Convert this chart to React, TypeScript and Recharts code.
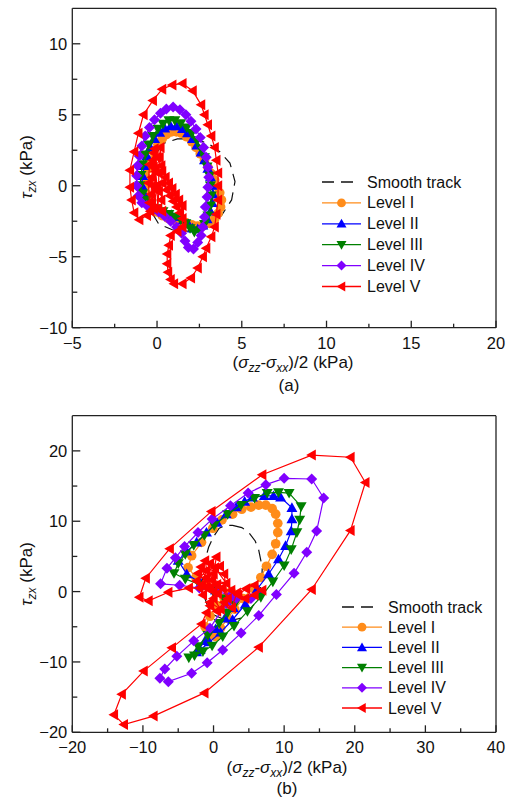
import React from 'react';
import { ScatterChart, Scatter, XAxis, YAxis, ReferenceLine } from 'recharts';

type Pt = [number, number];

// ---------- panel (a) ----------
const aSmooth: Pt[] = [
  [2.1, 3.3], [3.0, 3.0], [3.7, 2.4], [4.3, 1.6], [4.6, 0.3], [4.4, -1.0], [3.8, -2.1],
  [2.9, -2.9], [1.8, -3.2], [0.9, -3.1], [0.1, -2.7], [-0.3, -1.9], [-0.5, -0.6],
  [-0.4, 0.9], [-0.1, 2.2], [0.4, 3.0], [1.2, 3.3], [2.1, 3.3],
];
const aLevel1: Pt[] = [
  [-0.7, 0.0], [-0.65, 0.6], [-0.55, 1.2], [-0.4, 1.8], [-0.2, 2.4], [0.05, 2.9], [0.3, 3.3],
  [0.55, 3.6], [0.85, 3.8], [1.15, 3.8], [1.45, 3.7], [1.75, 3.45], [2.05, 3.1], [2.3, 2.7],
  [2.55, 2.25], [2.8, 1.8], [3.0, 1.3], [3.2, 0.85], [3.4, 0.4], [3.55, -0.05], [3.7, -0.5],
  [3.8, -1.0], [3.75, -1.5], [3.6, -1.95], [3.4, -2.35], [3.1, -2.65], [2.75, -2.8], [2.4, -2.85],
  [2.05, -2.75], [1.7, -2.6], [1.35, -2.5], [1.0, -2.4], [0.65, -2.3], [0.3, -2.1], [0.0, -1.85],
  [-0.3, -1.5], [-0.5, -1.1], [-0.65, -0.55], [-0.7, 0.0],
];
const aLevel2: Pt[] = [
  [-0.9, 0.0], [-0.85, 0.7], [-0.75, 1.4], [-0.6, 2.1], [-0.4, 2.7], [-0.15, 3.3], [0.15, 3.75],
  [0.45, 4.05], [0.8, 4.2], [1.15, 4.2], [1.5, 4.0], [1.8, 3.7], [2.1, 3.3], [2.35, 2.85],
  [2.6, 2.35], [2.8, 1.8], [3.0, 1.2], [3.15, 0.6], [3.25, 0.0], [3.3, -0.6], [3.25, -1.2],
  [3.15, -1.8], [2.95, -2.35], [2.7, -2.8], [2.4, -3.05], [2.1, -3.0], [1.85, -2.7], [1.55, -2.4],
  [1.2, -2.2], [0.85, -2.05], [0.5, -1.9], [0.15, -1.7], [-0.2, -1.45], [-0.5, -1.1],
  [-0.75, -0.6], [-0.9, 0.0],
];
const aLevel3: Pt[] = [
  [-1.0, 0.0], [-0.95, 0.75], [-0.85, 1.5], [-0.7, 2.2], [-0.5, 2.9], [-0.25, 3.5], [0.05, 4.0],
  [0.35, 4.35], [0.7, 4.6], [1.05, 4.6], [1.4, 4.4], [1.75, 4.1], [2.05, 3.7], [2.35, 3.2],
  [2.6, 2.6], [2.8, 2.0], [2.95, 1.35], [3.1, 0.7], [3.15, 0.0], [3.2, -0.7], [3.15, -1.4],
  [3.0, -2.1], [2.8, -2.7], [2.5, -3.15], [2.2, -3.25], [1.95, -3.0], [1.7, -2.65], [1.4, -2.4],
  [1.05, -2.2], [0.7, -2.0], [0.35, -1.8], [0.0, -1.6], [-0.35, -1.35], [-0.65, -1.0],
  [-0.85, -0.55], [-1.0, 0.0],
];
const aLevel4: Pt[] = [
  [-1.2, 0.0], [-1.2, 0.7], [-1.15, 1.4], [-1.05, 2.1], [-0.9, 2.8], [-0.7, 3.5], [-0.45, 4.1],
  [-0.15, 4.65], [0.2, 5.1], [0.55, 5.4], [0.95, 5.55], [1.35, 5.35], [1.7, 5.0], [2.0, 4.55],
  [2.3, 4.0], [2.55, 3.4], [2.75, 2.7], [2.9, 2.0], [3.0, 1.3], [3.05, 0.6], [3.0, -0.1],
  [2.95, -0.8], [2.85, -1.5], [2.8, -2.2], [2.7, -2.9], [2.6, -3.5], [2.4, -4.0], [2.15, -4.45],
  [1.85, -4.35], [1.65, -3.9], [1.45, -3.35], [1.15, -2.9], [0.8, -2.5], [0.45, -2.15],
  [0.1, -1.85], [-0.25, -1.6], [-0.6, -1.4], [-0.9, -1.2], [-1.1, -0.7], [-1.2, 0.0],
];
const aLevel5: Pt[] = [
  [0.0, 0.0], [-0.1, 1.2], [-0.15, 2.6], [-0.2, 1.3], [-0.25, 0.0], [-0.3, -1.2], [-0.4, -1.8],
  [-0.35, -0.6], [-0.3, 0.6], [-0.25, 1.8], [-0.2, 2.3], [-0.1, 1.0], [0.0, -0.3], [0.05, -1.6],
  [0.1, -0.4], [0.1, 0.9], [0.15, 2.0], [0.2, 2.7], [0.25, 1.4], [0.3, 0.2], [0.25, -1.0],
  [0.3, -1.8], [-0.45, -1.2], [-0.5, 0.2], [-0.45, 1.5], [0.0, 2.0], [0.3, 1.0], [0.5, 0.6],
  [0.55, -0.3], [0.7, 0.2], [0.75, -0.7], [0.9, -0.2], [0.95, -1.1], [1.1, -0.6], [1.15, -1.5],
  [1.3, -1.0], [1.35, -1.9], [1.5, -1.4], [1.5, -2.3], [1.5, -2.9], [1.2, -3.2], [0.8, -3.5],
  [0.7, -4.2], [0.6, -4.8], [0.6, -5.5], [0.65, -6.1], [0.8, -6.6], [1.0, -6.9], [1.5, -6.9],
  [2.0, -6.5], [2.4, -5.8], [2.7, -5.0], [2.9, -4.4], [3.2, -3.6], [3.4, -2.9], [3.5, -2.0],
  [3.6, -1.0], [3.6, 0.0], [3.6, 0.9], [3.5, 1.8], [3.4, 2.7], [3.2, 3.5], [3.0, 4.3],
  [2.8, 5.0], [2.6, 5.7], [2.1, 6.7], [1.5, 7.2], [0.9, 7.1], [0.3, 6.8], [-0.25, 6.0],
  [-0.8, 5.0], [-1.1, 3.7], [-1.35, 2.4], [-1.6, 1.1], [-1.6, -0.1], [-1.5, -1.0], [-1.35, -1.9],
  [-1.05, -2.4], [-0.6, -2.1], [-0.2, -1.6], [0.0, 0.0],
];

// ---------- panel (b) ----------
const bSmooth: Pt[] = [
  [2.7, 9.4], [4.0, 9.1], [5.0, 8.4], [5.9, 7.2], [6.4, 5.9], [6.9, 3.4], [6.8, 1.0],
  [6.0, -1.5], [4.3, -3.7], [2.0, -4.2], [0.0, -3.3], [-0.6, -2.7], [-1.4, -0.5], [-1.6, 2.0],
  [-1.3, 4.1], [-0.7, 6.3], [0.0, 7.8], [0.8, 9.0], [1.7, 9.4], [2.7, 9.4],
];
const bLevel1: Pt[] = [
  [0.5, 0.5], [-1.0, 1.0], [-2.5, 2.0], [-3.6, 3.4], [-3.1, 5.1], [-1.7, 7.0], [-0.1, 9.0],
  [1.2, 10.2], [2.7, 11.0], [4.0, 11.7], [5.3, 12.0], [6.4, 12.3], [7.4, 12.3], [8.3, 11.8],
  [8.8, 11.0], [9.1, 9.7], [9.1, 8.4], [8.8, 6.8], [8.3, 5.3], [7.5, 3.6], [6.7, 2.0],
  [5.5, 0.5], [4.2, -1.0], [3.0, -2.5], [2.0, -3.8], [1.0, -5.2], [0.3, -6.4], [-0.6, -6.2],
  [-1.2, -5.0], [-0.5, -3.5], [0.5, -2.0], [1.5, -1.0], [2.5, 0.0], [0.5, 0.5],
];
const bLevel2: Pt[] = [
  [0.3, 0.2], [-1.8, 1.2], [-3.8, 2.5], [-5.0, 4.4], [-3.8, 5.7], [-2.4, 7.0], [-1.0, 8.4],
  [0.5, 9.8], [1.8, 11.0], [3.2, 12.0], [4.4, 12.8], [5.5, 13.4], [7.2, 13.6], [8.5, 13.6],
  [9.5, 13.4], [11.1, 11.9], [11.1, 10.3], [11.0, 8.6], [10.2, 6.5], [9.2, 4.6], [7.8, 2.5],
  [6.2, 0.4], [4.5, -1.8], [2.7, -4.0], [1.0, -5.8], [-0.6, -7.2], [-1.9, -8.3], [-2.4, -8.6],
  [-1.2, -7.0], [0.3, -5.3], [1.6, -3.8], [2.8, -2.3], [1.8, -1.2], [0.3, 0.2],
];
const bLevel3: Pt[] = [
  [0.0, 0.0], [-2.0, 1.0], [-4.0, 1.8], [-5.6, 2.6], [-5.0, 4.0], [-4.0, 5.3], [-2.8, 6.6],
  [-1.3, 8.0], [0.1, 9.4], [2.0, 11.0], [3.9, 12.3], [5.8, 13.3], [7.6, 14.0], [9.2, 14.1],
  [10.7, 14.0], [12.4, 12.1], [12.2, 10.2], [11.8, 8.4], [11.0, 6.0], [10.0, 3.7], [8.4, 1.4],
  [6.7, -0.8], [4.8, -2.8], [2.9, -4.9], [1.3, -6.4], [-0.2, -7.7], [-1.5, -8.5], [-2.7, -9.1],
  [-3.5, -9.4], [-2.2, -7.8], [-0.8, -6.2], [0.8, -4.5], [2.0, -3.0], [3.0, -1.8], [1.5, -1.0],
  [0.0, 0.0],
];
const bLevel4: Pt[] = [
  [0.5, 0.0], [-2.0, 0.5], [-4.8, 0.9], [-7.5, 1.1], [-6.6, 3.3], [-5.4, 4.8], [-4.1, 6.4],
  [-2.2, 8.4], [-0.2, 10.3], [2.4, 12.2], [4.9, 14.0], [7.4, 15.2], [10.0, 16.1], [13.9, 16.0],
  [15.6, 13.3], [14.6, 8.6], [13.2, 5.6], [11.4, 2.6], [8.9, -0.4], [6.4, -3.4], [3.9, -5.9],
  [1.3, -8.3], [-0.9, -10.1], [-3.1, -11.6], [-6.4, -12.8], [-7.6, -12.3], [-6.9, -11.0],
  [-5.2, -9.2], [-2.8, -7.0], [-0.5, -5.2], [1.8, -1.7], [3.2, -1.0], [5.3, -1.0], [2.5, -0.5],
  [0.5, 0.0],
];
const bLevel5: Pt[] = [
  [0.0, 0.0], [-1.0, 2.0], [-2.0, 0.5], [-0.5, 4.0], [0.4, 4.9], [0.0, 2.5], [-1.5, -0.5],
  [-2.4, 1.5], [-1.0, 3.0], [0.5, 1.0], [-0.5, -1.5], [1.0, -2.5], [0.0, -1.0], [1.2, 0.5],
  [2.0, -1.0], [1.5, 2.5], [-1.8, 3.5], [-0.5, 0.5], [-1.2, 4.4], [0.9, 3.6], [-2.2, 2.6],
  [0.6, -0.3], [-0.2, 1.6], [1.8, 1.2], [-1.6, 1.0], [0.2, 3.4], [2.5, 0.2], [3.5, -0.5],
  [4.6, 0.4], [5.8, 0.9], [6.9, 0.2], [5.8, -0.5], [4.5, -1.0], [3.3, -0.2], [2.6, -2.3],
  [1.5, -1.5], [0.5, -2.8], [-0.5, -2.0], [-1.0, -3.0], [-1.7, -4.6], [-5.9, -8.0], [-9.9, -11.3],
  [-13.0, -14.6], [-14.1, -17.5], [-12.7, -18.9], [-8.5, -17.7], [-1.3, -14.4], [6.4, -7.9],
  [13.9, 0.3], [19.4, 8.7], [21.5, 15.5], [19.4, 19.1], [13.9, 19.4], [6.9, 16.6], [-0.3, 11.4],
  [-6.2, 6.1], [-9.6, 1.9], [-10.5, -0.8], [-9.2, -1.3], [-6.4, -0.1], [-3.5, 0.5], [-1.0, 0.5],
];

const aXTicks = [-5, -2.5, 0, 2.5, 5, 7.5, 10, 12.5, 15, 17.5, 20];
const aYTicks = [-10, -7.5, -5, -2.5, 0, 2.5, 5, 7.5, 10];
const bXTicks = [-20, -15, -10, -5, 0, 5, 10, 15, 20, 25, 30, 35, 40];
const bYTicks = [-20, -15, -10, -5, 0, 5, 10, 15, 20];
const legendNames = ['Smooth track', 'Level I', 'Level II', 'Level III', 'Level IV', 'Level V'];

const levelColors = ['#FF8C1A', '#0000FF', '#008000', '#8000FF', '#FF0000'];
const levelMarkers = ['circle', 'up', 'down', 'diamond', 'left'];

const FONT = '"Liberation Sans", Arial, sans-serif';
const AXIS = '#222';
const MS = 5.5;

const fmt = (v: number) => (v < 0 ? `\u2212${-v}` : `${v}`);
const rows = (pts: Pt[]) => pts.map(([x, y]) => ({ x, y }));

function drawMarker(kind: string, cx: number, cy: number, color: string, s = MS) {
  switch (kind) {
    case 'circle':
      return <circle cx={cx} cy={cy} r={s * 0.88} fill={color} />;
    case 'up':
      return <polygon points={`${cx},${cy - s} ${cx + s},${cy + s * 0.75} ${cx - s},${cy + s * 0.75}`} fill={color} />;
    case 'down':
      return <polygon points={`${cx},${cy + s} ${cx + s},${cy - s * 0.75} ${cx - s},${cy - s * 0.75}`} fill={color} />;
    case 'diamond':
      return <polygon points={`${cx},${cy - s} ${cx + s},${cy} ${cx},${cy + s} ${cx - s},${cy}`} fill={color} />;
    default:
      return <polygon points={`${cx - s},${cy} ${cx + s * 0.75},${cy - s} ${cx + s * 0.75},${cy + s}`} fill={color} />;
  }
}

const makeXTick = (major: number) => (props: any) => {
  const { x, y, payload } = props;
  const isMajor = Math.abs(payload.value % major) < 1e-6;
  return (
    <g>
      <line x1={x} x2={x} y1={y} y2={y - (isMajor ? 7 : 4)} stroke={AXIS} strokeWidth={1.3} />
      {isMajor && (
        <text x={x} y={y + 21} textAnchor="middle" fontSize={16.5} fontFamily={FONT} fill="#111">
          {fmt(payload.value)}
        </text>
      )}
    </g>
  );
};

const makeYTick = (major: number) => (props: any) => {
  const { x, y, payload } = props;
  const isMajor = Math.abs(payload.value % major) < 1e-6;
  return (
    <g>
      <line x1={x} x2={x + (isMajor ? 8 : 5)} y1={y} y2={y} stroke={AXIS} strokeWidth={1.3} />
      {isMajor && (
        <text x={x - 5} y={y + 6} textAnchor="end" fontSize={16.5} fontFamily={FONT} fill="#111">
          {fmt(payload.value)}
        </text>
      )}
    </g>
  );
};

type PanelProps = {
  top: number;
  plotTop: number;
  plotBottom: number;
  xDomain: [number, number];
  yDomain: [number, number];
  xTicks: number[];
  yTicks: number[];
  xMajor: number;
  yMajor: number;
  smooth: Pt[];
  levels: Pt[][];
};

function Panel(p: PanelProps) {
  return (
    <div style={{ position: 'absolute', left: 0, top: p.top }}>
      <ScatterChart
        width={511}
        height={400}
        margin={{ top: p.plotTop, right: 15, left: 12.3, bottom: 400 - p.plotBottom - 30 }}
      >
        <XAxis
          type="number"
          dataKey="x"
          domain={p.xDomain}
          ticks={p.xTicks}
          interval={0}
          height={30}
          tickSize={0}
          tickMargin={0}
          tickLine={false}
          tick={makeXTick(p.xMajor)}
          axisLine={{ stroke: AXIS, strokeWidth: 1.3 }}
          allowDataOverflow
        />
        <YAxis
          type="number"
          dataKey="y"
          domain={p.yDomain}
          ticks={p.yTicks}
          interval={0}
          width={60}
          tickSize={0}
          tickMargin={0}
          tickLine={false}
          tick={makeYTick(p.yMajor)}
          axisLine={{ stroke: AXIS, strokeWidth: 1.3 }}
          allowDataOverflow
        />
        <ReferenceLine y={p.yDomain[1]} stroke={AXIS} strokeWidth={1.3} />
        <ReferenceLine x={p.xDomain[1]} stroke={AXIS} strokeWidth={1.3} />
        <Scatter
          data={rows(p.smooth)}
          line={{ stroke: '#111', strokeWidth: 1.2, strokeDasharray: '12 7' }}
          lineType="joint"
          shape={() => <g />}
          isAnimationActive={false}
        />
        {p.levels.map((pts, i) => (
          <Scatter
            key={i}
            data={rows(pts)}
            line={{ stroke: levelColors[i], strokeWidth: 1.2 }}
            lineType="joint"
            shape={(sp: any) => drawMarker(levelMarkers[i], sp.cx, sp.cy, levelColors[i])}
            isAnimationActive={false}
          />
        ))}
      </ScatterChart>
    </div>
  );
}

function Legend({ left, top, gap, lineW }: { left: number; top: number; gap: number; lineW: number }) {
  return (
    <svg style={{ position: 'absolute', left, top: top - 12 }} width={160} height={gap * 6 + 12}>
      {legendNames.map((name, i) => {
        const y = 12 + i * gap;
        return (
          <g key={name}>
            {i === 0 ? (
              <line x1={0} x2={lineW - 8} y1={y} y2={y} stroke="#111" strokeWidth={1.3} strokeDasharray="12 7" />
            ) : (
              <>
                <line x1={0} x2={lineW} y1={y} y2={y} stroke={levelColors[i - 1]} strokeWidth={1.3} />
                {drawMarker(levelMarkers[i - 1], lineW / 2, y, levelColors[i - 1], 5)}
              </>
            )}
            <text x={lineW + 6} y={y + 5.5} fontSize={16} fontFamily={FONT} fill="#111">
              {name}
            </text>
          </g>
        );
      })}
    </svg>
  );
}

const textBase: React.CSSProperties = {
  position: 'absolute',
  fontFamily: FONT,
  fontSize: 17,
  color: '#111',
  whiteSpace: 'nowrap',
  lineHeight: 1,
};
const subStyle: React.CSSProperties = { fontSize: 12, fontStyle: 'italic', verticalAlign: '-4px', lineHeight: 0 };

const XLabel = ({ cx, cy }: { cx: number; cy: number }) => (
  <div style={{ ...textBase, left: cx, top: cy, transform: 'translate(-50%, -50%)' }}>
    (<i>σ</i>
    <span style={subStyle}>zz</span>-<i>σ</i>
    <span style={subStyle}>xx</span>)/2 (kPa)
  </div>
);

const YLabel = ({ cx, cy }: { cx: number; cy: number }) => (
  <div style={{ ...textBase, left: cx, top: cy, transform: 'translate(-50%, -50%) rotate(-90deg)' }}>
    <i>τ</i>
    <span style={subStyle}>zx</span> (kPa)
  </div>
);

const Caption = ({ cx, cy, text }: { cx: number; cy: number; text: string }) => (
  <div style={{ ...textBase, left: cx, top: cy, transform: 'translate(-50%, -50%)' }}>{text}</div>
);

export default function App() {
  return (
    <div style={{ position: 'absolute', left: 0, top: 0, width: 511, height: 800, background: '#fff' }}>
      <Panel
        top={0}
        plotTop={8.3}
        plotBottom={327.7}
        xDomain={[-5, 20]}
        yDomain={[-10, 12.5]}
        xTicks={aXTicks}
        yTicks={aYTicks}
        xMajor={5}
        yMajor={5}
        smooth={aSmooth}
        levels={[aLevel1, aLevel2, aLevel3, aLevel4, aLevel5]}
      />
      <Panel
        top={400}
        plotTop={15.7}
        plotBottom={332.3}
        xDomain={[-20, 40]}
        yDomain={[-20, 25]}
        xTicks={bXTicks}
        yTicks={bYTicks}
        xMajor={10}
        yMajor={10}
        smooth={bSmooth}
        levels={[bLevel1, bLevel2, bLevel3, bLevel4, bLevel5]}
      />
      <Legend left={322} top={181.7} gap={20.9} lineW={39} />
      <Legend left={342} top={606.7} gap={20.2} lineW={40} />
      <YLabel cx={26} cy={167} />
      <XLabel cx={293} cy={362} />
      <Caption cx={289} cy={385} text="(a)" />
      <YLabel cx={26} cy={574} />
      <XLabel cx={287} cy={767} />
      <Caption cx={287} cy={788} text="(b)" />
    </div>
  );
}
